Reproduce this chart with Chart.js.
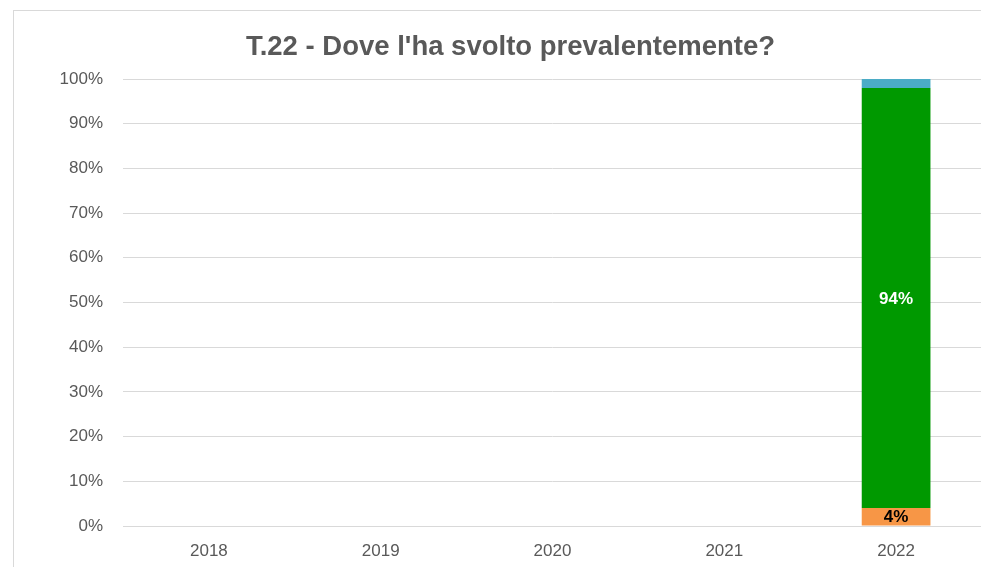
<!DOCTYPE html>
<html>
<head>
<meta charset="utf-8">
<script src="https://cdn.jsdelivr.net/npm/chart.js@4"></script>
<style>
  html, body { margin: 0; padding: 0; background: #fff; overflow: hidden; }
  #frame {
    position: absolute; left: 13px; top: 10px;
    width: 993px; height: 557px;
    border-left: 1px solid #d9d9d9; border-top: 1px solid #d9d9d9;
  }
</style>
</head>
<body>
<div id="frame"><canvas id="chart"></canvas></div>
<script>
var years = ['2018', '2019', '2020', '2021', '2022'];
var serie1 = [null, null, null, null, 4];
var serie2 = [null, null, null, null, 94];
var serie3 = [null, null, null, null, 2];
var yTicks = [0, 10, 20, 30, 40, 50, 60, 70, 80, 90, 100];

var FONT = "'Liberation Sans', 'Open Sans', sans-serif";

// simple value labels, skipped when the segment is too thin
var barLabels = {
    id: 'barLabels',
    afterDatasetsDraw: function(chart) {
        var ctx = chart.ctx;
        ctx.save();
        ctx.font = 'bold 17px ' + FONT;
        ctx.textAlign = 'center';
        ctx.textBaseline = 'middle';
        chart.data.datasets.forEach(function(ds, i) {
            if (!ds.labelColor) return;
            chart.getDatasetMeta(i).data.forEach(function(bar, j) {
                var v = ds.data[j];
                if (v == null || v < 3) return;
                ctx.fillStyle = ds.labelColor;
                ctx.fillText(v + '%', bar.x, (bar.y + bar.base) / 2 + 1);
            });
        });
        ctx.restore();
    }
};

new Chart(document.getElementById('chart'), {
    type: 'bar',
    data: {
        labels: years,
        datasets: [
            { label: 'Serie 1', data: serie1, backgroundColor: '#f79646', labelColor: '#000000' },
            { label: 'Serie 2', data: serie2, backgroundColor: '#009900', labelColor: '#ffffff' },
            { label: 'Serie 3', data: serie3, backgroundColor: '#4bacc6' }
        ]
    },
    options: {
        responsive: true,
        maintainAspectRatio: false,
        animation: false,
        categoryPercentage: 0.4,
        barPercentage: 1,
        layout: { padding: 0 },
        plugins: {
            legend: { display: false },
            tooltip: { enabled: false },
            title: {
                display: true,
                text: "T.22 - Dove l'ha svolto prevalentemente?",
                color: '#595959',
                font: { family: FONT, size: 27.5, weight: 'bold' },
                padding: { top: 20, bottom: 15 }
            }
        },
        scales: {
            x: {
                stacked: true,
                grid: { display: false, drawTicks: false },
                border: { color: '#d9d9d9' },
                ticks: { color: '#595959', font: { family: FONT, size: 17 }, padding: 15 },
                afterFit: function(s) { s.height = 42; }
            },
            y: {
                stacked: true,
                min: 0,
                max: 100,
                afterBuildTicks: function(s) { s.ticks = yTicks.map(function(v) { return { value: v }; }); },
                grid: { color: '#d9d9d9', drawTicks: false },
                border: { display: false },
                ticks: {
                    color: '#595959',
                    font: { family: FONT, size: 17 },
                    padding: 20,
                    callback: function(v) { return v + '%'; }
                },
                afterFit: function(s) { s.width = 109; }
            },
            // empty right-hand spacer so the plot ends before the frame edge
            yRight: {
                position: 'right',
                grid: { display: false, drawTicks: false },
                border: { display: false },
                ticks: { display: false },
                afterFit: function(s) { s.width = 25; }
            }
        }
    },
    plugins: [barLabels]
});
</script>
</body>
</html>
